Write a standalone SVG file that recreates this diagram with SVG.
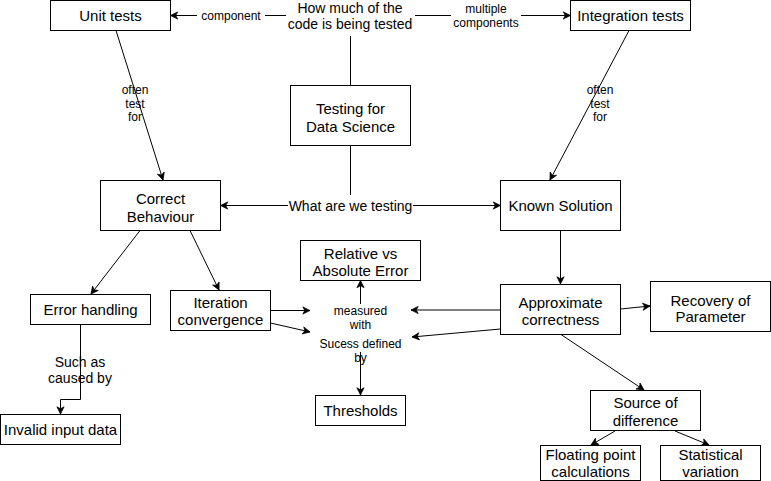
<svg xmlns="http://www.w3.org/2000/svg" width="771" height="481" viewBox="0 0 771 481">
<style>
  .box { fill: #fff; stroke: #000; stroke-width: 1; }
  .t { font-family: "Liberation Sans", Arial, Helvetica, sans-serif; font-size: 15px; fill: #000; text-anchor: middle; }
  .m { font-family: "Liberation Sans", Arial, Helvetica, sans-serif; font-size: 14px; fill: #000; text-anchor: middle; }
  .l { font-family: "Liberation Sans", Arial, Helvetica, sans-serif; font-size: 12px; fill: #000; text-anchor: middle; }
  .e { fill: none; stroke: #000; stroke-width: 1; }
  .a { marker-end: url(#arr); }
</style>
<defs>
  <marker id="arr" viewBox="0 0 10 10" refX="9" refY="5" markerWidth="9" markerHeight="9" markerUnits="userSpaceOnUse" orient="auto">
    <path d="M1,1 L9,5 L1,9 L3.2,5 z" fill="#000" stroke="#000" stroke-width="0.8"/>
  </marker>
</defs>
<rect width="771" height="481" fill="#fff"/>

<g id="connectors">
  <path class="e a" d="M286,15.5 H170.5"/>
  <path class="e a" d="M415,15.5 H570.5"/>
  <path class="e" d="M350.5,36 V85"/>
  <path class="e" d="M350.5,145 V195"/>
  <path class="e a" d="M288,205.5 H220.5"/>
  <path class="e a" d="M413,205.5 H500.5"/>
  <path class="e a" d="M116,30.5 L163,180"/>
  <path class="e a" d="M629,30.5 L550,180"/>
  <path class="e a" d="M140,230.5 L91,294"/>
  <path class="e a" d="M190,230.5 L219,290"/>
  <path class="e a" d="M80.5,324.5 V399.5 H60.5 V414"/>
  <path class="e a" d="M270.5,310.5 H310"/>
  <path class="e a" d="M270.5,323 L310,332"/>
  <path class="e a" d="M360.5,304 V280.5"/>
  <path class="e a" d="M360.5,352 V395"/>
  <path class="e a" d="M560.5,230.5 V284"/>
  <path class="e a" d="M500.5,310 H411"/>
  <path class="e a" d="M500.5,329 L412,337"/>
  <path class="e a" d="M620.5,309 L650,306"/>
  <path class="e a" d="M561,334.5 L644,390"/>
  <path class="e a" d="M615,431 L591,445"/>
  <path class="e a" d="M675,431 L709,445"/>
  <rect x="197" y="6" width="68" height="18" fill="#fff"/>
  <text class="l" x="231" y="19.5">component</text>
  <rect x="451" y="2" width="70" height="28" fill="#fff"/>
  <text class="l" x="486" y="12.5">multiple</text>
  <text class="l" x="486" y="26.5">components</text>
  <text class="l" x="135" y="93.5">often</text>
  <text class="l" x="135" y="107.5">test</text>
  <text class="l" x="135" y="121">for</text>
  <text class="l" x="600" y="93.5">often</text>
  <text class="l" x="600" y="107.5">test</text>
  <text class="l" x="600" y="121">for</text>
  <text class="m" x="80" y="367.3">Such as</text>
  <text class="m" x="80" y="383">caused by</text>
</g>

<g id="how-much">
  <text class="m" x="350" y="13">How much of the</text>
  <text class="m" x="350" y="29">code is being tested</text>
</g>
<g id="unit-tests">
  <rect class="box" x="50.5" y="0.5" width="120" height="30"/>
  <text class="t" x="110.5" y="21">Unit tests</text>
</g>
<g id="integration-tests">
  <rect class="box" x="570.5" y="0.5" width="120" height="30"/>
  <text class="t" x="630.5" y="21">Integration tests</text>
</g>
<g id="testing-ds">
  <rect class="box" x="290.5" y="85.5" width="120" height="60"/>
  <text class="t" x="350.5" y="113.5">Testing for</text>
  <text class="t" x="350.5" y="131.5">Data Science</text>
</g>
<g id="what-testing">
  <text class="m" x="350.5" y="210.5">What are we testing</text>
</g>
<g id="correct-behaviour">
  <rect class="box" x="100.5" y="180.5" width="120" height="50"/>
  <text class="t" x="160.5" y="203.5">Correct</text>
  <text class="t" x="160.5" y="221.5">Behaviour</text>
</g>
<g id="known-solution">
  <rect class="box" x="500.5" y="180.5" width="120" height="50"/>
  <text class="t" x="560.5" y="211">Known Solution</text>
</g>
<g id="relative-error">
  <rect class="box" x="300.5" y="240.5" width="120" height="40"/>
  <text class="t" x="360.5" y="258.5">Relative vs</text>
  <text class="t" x="360.5" y="276">Absolute Error</text>
</g>
<g id="error-handling">
  <rect class="box" x="30.5" y="294.5" width="120" height="30"/>
  <text class="t" x="90.5" y="315">Error handling</text>
</g>
<g id="iteration-convergence">
  <rect class="box" x="170.5" y="290.5" width="100" height="40"/>
  <text class="t" x="220.5" y="307.7">Iteration</text>
  <text class="t" x="220.5" y="325.3">convergence</text>
</g>
<g id="measured-with">
  <text class="l" x="360.5" y="315">measured</text>
  <text class="l" x="360.5" y="329">with</text>
</g>
<g id="success-defined">
  <text class="l" x="360.5" y="348.3">Sucess defined</text>
  <text class="l" x="360.5" y="362">by</text>
</g>
<g id="approximate-correctness">
  <rect class="box" x="500.5" y="284.5" width="120" height="50"/>
  <text class="t" x="560.5" y="307.7">Approximate</text>
  <text class="t" x="560.5" y="324.5">correctness</text>
</g>
<g id="recovery-parameter">
  <rect class="box" x="650.5" y="281.5" width="120" height="50"/>
  <text class="t" x="710.5" y="305.5">Recovery of</text>
  <text class="t" x="710.5" y="322">Parameter</text>
</g>
<g id="thresholds">
  <rect class="box" x="315.5" y="395.5" width="90" height="30"/>
  <text class="t" x="360.5" y="416">Thresholds</text>
</g>
<g id="invalid-input">
  <rect class="box" x="0.5" y="414.5" width="120" height="30"/>
  <text class="t" x="60.5" y="435">Invalid input data</text>
</g>
<g id="source-difference">
  <rect class="box" x="590.5" y="390.5" width="110" height="40"/>
  <text class="t" x="645.5" y="408">Source of</text>
  <text class="t" x="645.5" y="426">difference</text>
</g>
<g id="floating-point">
  <rect class="box" x="540.5" y="445.5" width="100" height="35"/>
  <text class="t" x="590.5" y="460">Floating point</text>
  <text class="t" x="590.5" y="476.7">calculations</text>
</g>
<g id="statistical-variation">
  <rect class="box" x="660.5" y="445.5" width="100" height="35"/>
  <text class="t" x="710.5" y="460">Statistical</text>
  <text class="t" x="710.5" y="476.7">variation</text>
</g>
</svg>
